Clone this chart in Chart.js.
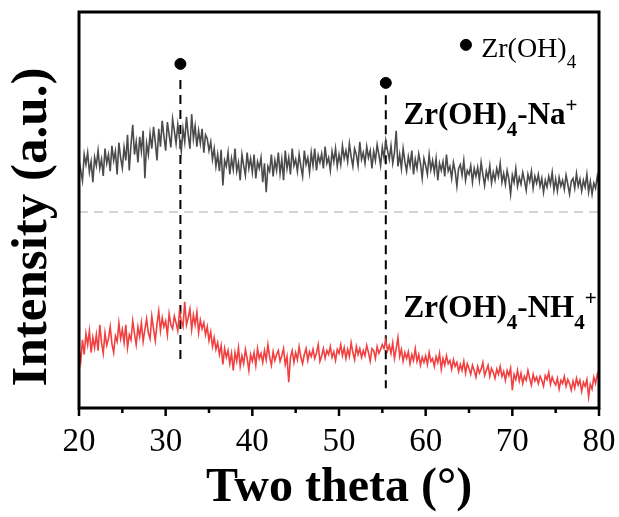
<!DOCTYPE html>
<html>
<head>
<meta charset="utf-8">
<script src="https://cdn.jsdelivr.net/npm/chart.js@4"></script>
<style>
  html, body { margin: 0; padding: 0; background: #fff; }
  canvas { display: block; }
</style>
</head>
<body>
<canvas id="xrd" width="619" height="517"></canvas>
<script>
// XRD scan: start angle and step (2θ, degrees)
var scanStart = 20;
var scanStep = 0.2;

// Zr(OH)4-Na+ counts (offset upwards), one row per degree
var naCounts = [
  628, 600, 574, 640, 615,
  645, 596, 622, 570, 633,
  612, 650, 605, 628, 586,
  655, 618, 640, 598, 662,
  625, 648, 590, 670, 632,
  606, 658, 625, 690, 600,
  665, 715, 640, 672, 620,
  685, 648, 700, 580, 668,
  640, 692, 655, 710, 672,
  625, 705, 660, 725, 686,
  650, 722, 690, 658, 730,
  700, 668, 716, 680, 648,
  705, 672, 735, 690, 655,
  742, 680, 712, 660, 700,
  668, 705, 645, 690, 680,
  650, 672, 628, 655, 610,
  640, 598, 652, 562, 625,
  610, 645, 590, 630, 602,
  655, 598, 620, 575, 640,
  612, 588, 645, 605, 630,
  595, 640, 580, 622, 605,
  632, 570, 618, 545, 610,
  598, 640, 585, 625, 600,
  645, 592, 628, 575, 650,
  605, 632, 590, 655, 612,
  628, 598, 640, 610, 585,
  650, 615, 632, 595, 645,
  612, 655, 600, 638, 620,
  642, 605, 660, 618, 632,
  600, 648, 622, 655, 610,
  640, 615, 662, 630, 650,
  622, 668, 635, 610, 655,
  640, 612, 672, 628, 645,
  618, 660, 632, 650, 605,
  648, 625, 665, 640, 612,
  658, 632, 675, 650, 628,
  662, 618, 645, 700, 610,
  640, 605, 655, 622, 598,
  635, 612, 650, 590, 628,
  605, 642, 618, 580, 630,
  612, 590, 640, 602, 625,
  595, 630, 575, 618, 600,
  622, 585, 640, 598, 610,
  580, 620, 598, 560, 605,
  615, 588, 625, 575, 600,
  590, 612, 570, 605, 585,
  608, 575, 620, 590, 562,
  598, 580, 612, 568, 595,
  575, 605, 585, 618, 570,
  592, 565, 600, 578, 540,
  588, 570, 605, 560, 582,
  565, 595, 575, 550, 590,
  572, 598, 555, 585, 568,
  590, 560, 580, 545, 575,
  558, 585, 565, 595, 550,
  578, 548, 582, 560, 575,
  552, 588, 565, 540, 572,
  580, 555, 592, 560, 578,
  548, 575, 558, 590, 545,
  572, 540, 568, 555, 585,
  562
];

// Zr(OH)4-NH4+ counts
var nh4Counts = [
  150, 118, 172, 135, 188,
  160, 195, 140, 178, 152,
  185, 145, 210, 165, 138,
  190, 158, 175, 205, 162,
  140, 182, 168, 215, 175,
  198, 165, 210, 152, 185,
  172, 220, 188, 160, 205,
  180, 215, 168, 198, 225,
  190, 175, 232, 200, 170,
  212, 245, 195, 228, 205,
  220, 185, 238, 210, 200,
  232, 215, 195, 245, 220,
  205, 268, 210, 228, 250,
  198, 235, 210, 242, 190,
  222, 200, 215, 185, 205,
  170, 192, 155, 178, 148,
  165, 135, 158, 110, 150,
  128, 145, 112, 138, 95,
  140, 118, 152, 105, 132,
  112, 148, 125, 95, 135,
  118, 140, 108, 150, 125,
  138, 115, 145, 122, 160,
  128, 108, 142, 120, 135,
  145, 118, 132, 150, 110,
  130, 65, 128, 145, 115,
  140, 122, 155, 128, 112,
  135, 150, 120, 142, 130,
  148, 125, 138, 160, 118,
  132, 150, 126, 145, 135,
  155, 128, 142, 120, 148,
  138, 160, 132, 152, 125,
  148, 130, 165, 140, 122,
  155, 135, 150, 128, 145,
  132, 158, 140, 118, 150,
  145, 125, 155, 138, 148,
  160, 150, 172, 145, 158,
  138, 165, 125, 150, 178,
  130, 148, 118, 140, 125,
  142, 112, 135, 120, 150,
  118, 135, 108, 128, 115,
  132, 110, 140, 118, 125,
  105, 130, 115, 138, 98,
  125, 108, 132, 112, 120,
  98, 122, 105, 115, 92,
  110, 95, 118, 88, 112,
  100, 85, 108, 95, 78,
  105, 88, 98, 115, 82,
  95, 108, 80, 100, 90,
  75, 98, 85, 105, 80,
  92, 70, 95, 82, 100,
  45, 85, 72, 95, 68,
  88, 62, 80, 70, 95,
  75, 58, 85, 68, 78,
  62, 80, 70, 55, 82,
  72, 90, 60, 78, 65,
  58, 75, 48, 70, 62,
  80, 55, 72, 62, 45,
  68, 50, 75, 58, 70,
  42, 65, 55, 72, 28,
  60, 48, 78, 62, 85,
  70
];

// Zr(OH)4 reflections marked with dots and dashed guides
var peakAngles = [31.7, 55.4];
var peakDotLevel = [869, 821];
var guideTop = [828, 790];
var guideBottom = [109, 50];

var xTicks = [20, 30, 40, 50, 60, 70, 80];
var separatorLevel = 495;

function toPoints(counts) {
  return counts.map(function (v, i) {
    return { x: scanStart + i * scanStep, y: v };
  });
}

var serif = '"Liberation Serif", "Times New Roman", serif';

// draw formula made of normal / sub / sup pieces
function drawFormula(ctx, parts, x, y, size, weight) {
  var cx = x;
  parts.forEach(function (p) {
    if (p.k === 'n') {
      ctx.font = weight + ' ' + size + 'px ' + serif;
      ctx.fillText(p.t, cx, y);
      cx += ctx.measureText(p.t).width;
    } else if (p.k === 'sub') {
      ctx.font = weight + ' ' + Math.round(size * 0.68) + 'px ' + serif;
      ctx.fillText(p.t, cx, y + size * 0.38);
      cx += ctx.measureText(p.t).width;
    } else {
      ctx.font = weight + ' ' + Math.round(size * 0.68) + 'px ' + serif;
      ctx.fillText(p.t, cx, y - size * 0.4);
      cx += ctx.measureText(p.t).width;
    }
  });
}

var decor = {
  id: 'decor',
  afterDatasetsDraw: function (chart) {
    var ctx = chart.ctx, xs = chart.scales.x, ys = chart.scales.y;
    ctx.save();
    ctx.fillStyle = '#000';
    ctx.textBaseline = 'alphabetic';
    ctx.textAlign = 'left';
    drawFormula(ctx, [{t:'Zr(OH)',k:'n'},{t:'4',k:'sub'}],
      xs.getPixelForValue(66.4), ys.getPixelForValue(886), 28, 'normal');
    drawFormula(ctx, [{t:'Zr(OH)',k:'n'},{t:'4',k:'sub'},{t:'-Na',k:'n'},{t:'+',k:'sup'}],
      xs.getPixelForValue(57.45), ys.getPixelForValue(717), 31, 'bold');
    drawFormula(ctx, [{t:'Zr(OH)',k:'n'},{t:'4',k:'sub'},{t:'-NH',k:'n'},{t:'4',k:'sub'},{t:'+',k:'sup'}],
      xs.getPixelForValue(57.45), ys.getPixelForValue(230), 31, 'bold');

    // y axis title
    ctx.translate(33, 227);
    ctx.rotate(-Math.PI / 2);
    ctx.textAlign = 'center';
    ctx.textBaseline = 'middle';
    ctx.font = 'bold 51px ' + serif;
    ctx.fillText('Intensity (a.u.)', 0, 0);
    ctx.restore();
  },
  afterDraw: function (chart) {
    var ctx = chart.ctx, a = chart.chartArea, xs = chart.scales.x;
    ctx.save();
    ctx.strokeStyle = '#000';
    ctx.lineWidth = 3;
    ctx.strokeRect(a.left, a.top, a.right - a.left, a.bottom - a.top);
    ctx.lineWidth = 2.5;
    for (var v = 20; v <= 80; v += 5) {
      var px = xs.getPixelForValue(v);
      var len = (v % 10 === 0) ? 8 : 5;
      ctx.beginPath();
      ctx.moveTo(px, a.bottom);
      ctx.lineTo(px, a.bottom + len);
      ctx.stroke();
    }
    ctx.restore();
  }
};

var datasets = [
  {
    data: [{ x: 20, y: separatorLevel }, { x: 80, y: separatorLevel }],
    borderColor: '#c8c8c8', borderWidth: 1.5, borderDash: [9, 6],
    pointRadius: 0
  },
  {
    data: toPoints(naCounts),
    borderColor: '#4b4b4b', borderWidth: 1.6, pointRadius: 0
  },
  {
    data: toPoints(nh4Counts),
    borderColor: '#f23f3f', borderWidth: 1.6, pointRadius: 0
  }
];
peakAngles.forEach(function (ang, i) {
  datasets.push({
    data: [{ x: ang, y: guideTop[i] }, { x: ang, y: guideBottom[i] }],
    borderColor: '#000', borderWidth: 2, borderDash: [9, 6], pointRadius: 0
  });
});
datasets.push({
  type: 'scatter',
  data: peakAngles.map(function (ang, i) { return { x: ang, y: peakDotLevel[i] }; })
    .concat([{ x: 64.65, y: 917 }]),
  backgroundColor: '#000', borderColor: '#000', pointRadius: 5.5
});

new Chart(document.getElementById('xrd').getContext('2d'), {
  type: 'line',
  data: { datasets: datasets },
  options: {
    responsive: false,
    animation: false,
    devicePixelRatio: 1,
    layout: { padding: { top: 12, right: 20, left: 0, bottom: 0 } },
    elements: { line: { tension: 0 } },
    scales: {
      x: {
        type: 'linear', min: 20, max: 80,
        afterBuildTicks: function (s) { s.ticks = xTicks.map(function (v) { return { value: v }; }); },
        grid: { display: false, drawTicks: false },
        border: { display: false },
        ticks: { font: { family: serif, size: 33 }, color: '#000', padding: 15, maxRotation: 0 },
        title: { display: true, text: 'Two theta (°)', color: '#000',
                 font: { family: serif, size: 48, weight: 'bold' }, padding: { top: 0, bottom: 0 } },
        afterFit: function (s) { s.height = 109; s.paddingLeft = 0; s.paddingRight = 0; }
      },
      y: {
        min: 0, max: 1000,
        grid: { display: false, drawTicks: false },
        border: { display: false },
        ticks: { display: false },
        afterFit: function (s) { s.width = 79; }
      }
    },
    plugins: { legend: { display: false }, tooltip: { enabled: false } }
  },
  plugins: [decor]
});
</script>
</body>
</html>
